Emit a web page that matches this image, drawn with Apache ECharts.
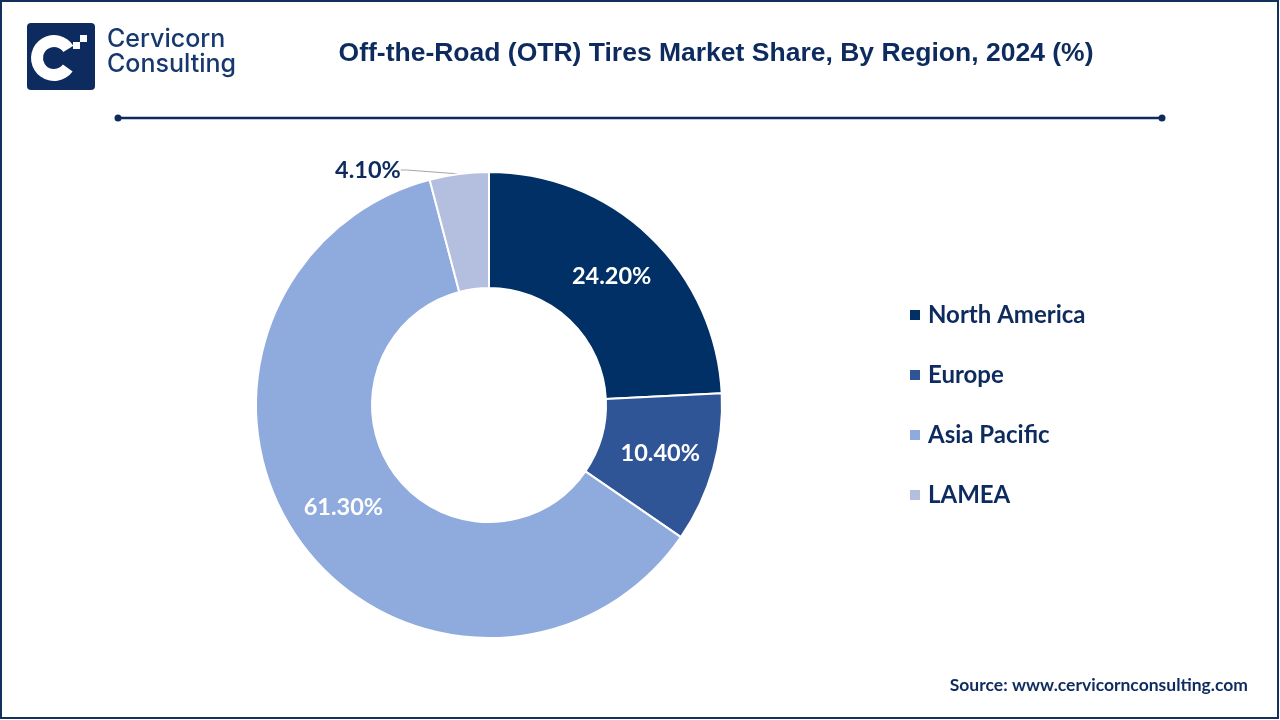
<!DOCTYPE html>
<html>
<head>
<meta charset="utf-8">
<script src="https://cdn.jsdelivr.net/npm/echarts@6/dist/echarts.min.js"></script>
<style>
html,body{margin:0;padding:0;background:#fff;}
#chart{width:1280px;height:720px;}
</style>
</head>
<body>
<div id="chart"></div>
<script>
const regions = ['North America', 'Europe', 'Asia Pacific', 'LAMEA'];
const shares = [24.2, 10.4, 61.3, 4.1];
const colors = ['#003066', '#2f5597', '#8faadc', '#b4bfe0'];
const titleText = 'Off-the-Road (OTR) Tires Market Share, By Region, 2024 (%)';
const sourceText = 'Source: www.cervicornconsulting.com';

const navy = '#0d2b5e';
const chart = echarts.init(document.getElementById('chart'));

const data = regions.map((name, i) => {
  const item = { name: name, value: shares[i], itemStyle: { color: colors[i] } };
  if (name === 'LAMEA') {
    item.label = { position: 'outside', color: navy, distanceToLabelLine: 3 };
    item.labelLine = { show: true, length: 10, length2: 6, lineStyle: { color: '#a6a6a6', width: 1 } };
  }
  return item;
});

chart.setOption({
  animation: false,
  backgroundColor: '#ffffff',
  title: {
    text: titleText,
    left: 711,
    top: 35,
    textAlign: 'center',
    textStyle: { fontFamily: '"Liberation Sans", Arial, sans-serif', fontWeight: 'bold', fontSize: 26.5, color: navy }
  },
  legend: {
    orient: 'vertical',
    left: 903,
    top: 298,
    itemWidth: 12,
    itemHeight: 12,
    itemGap: 36,
    icon: 'rect',
    data: regions,
    textStyle: { fontFamily: 'Lato, "Open Sans", sans-serif', fontWeight: 'bold', fontSize: 24, color: navy, padding: [0, 0, 0, 2] }
  },
  series: [{
    type: 'pie',
    center: [489, 405],
    radius: [117, 233],
    startAngle: 90,
    clockwise: true,
    avoidLabelOverlap: false,
    itemStyle: { borderColor: '#ffffff', borderWidth: 2 },
    label: {
      show: true,
      position: 'inside',
      formatter: p => p.value.toFixed(2) + '%',
      fontFamily: 'Lato, "Open Sans", sans-serif',
      fontWeight: 'bold',
      fontSize: 23.5,
      color: '#ffffff'
    },
    labelLine: { show: false },
    labelLayout: function (p) {
      if (p.dataIndex === 3) {
        return { x: p.labelRect.x + p.labelRect.width - 48, y: p.labelRect.y + 18, align: 'right', verticalAlign: 'middle' };
      }
    },
    emphasis: { disabled: true },
    data: data
  }],
  graphic: [
    { type: 'rect', shape: { x: 1, y: 1, width: 1277, height: 717 }, style: { fill: 'none', stroke: '#13315c', lineWidth: 2 }, silent: true },
    { type: 'rect', shape: { x: 27, y: 23, width: 68, height: 67, r: 4 }, style: { fill: '#0d2b5e' } },
    { type: 'sector', shape: { cx: 54, cy: 58, r: 23, r0: 11, startAngle: Math.PI * 0.2, endAngle: Math.PI * 1.82, clockwise: true }, style: { fill: '#ffffff' } },
    { type: 'rect', shape: { x: 80, y: 35, width: 7, height: 7 }, style: { fill: '#ffffff' } },
    { type: 'rect', shape: { x: 73, y: 42, width: 7, height: 7 }, style: { fill: '#ffffff' } },
    { type: 'text', left: 107, top: 27, style: { text: 'Cervicorn', fontFamily: 'Inter, sans-serif', fontWeight: 500, fontSize: 25, fill: '#17386e' } },
    { type: 'text', left: 107, top: 52, style: { text: 'Consulting', fontFamily: 'Inter, sans-serif', fontWeight: 500, fontSize: 25, fill: '#17386e' } },
    { type: 'line', shape: { x1: 118, y1: 118, x2: 1162, y2: 118 }, style: { stroke: '#0d2b5e', lineWidth: 2.5 } },
    { type: 'circle', shape: { cx: 118, cy: 118, r: 3.5 }, style: { fill: '#0d2b5e' } },
    { type: 'circle', shape: { cx: 1162, cy: 118, r: 3.5 }, style: { fill: '#0d2b5e' } },
    { type: 'text', right: 32, top: 676, style: { text: sourceText, fontFamily: 'Lato, "Open Sans", sans-serif', fontWeight: 'bold', fontSize: 17.5, fill: navy } }
  ]
});
</script>
</body>
</html>
